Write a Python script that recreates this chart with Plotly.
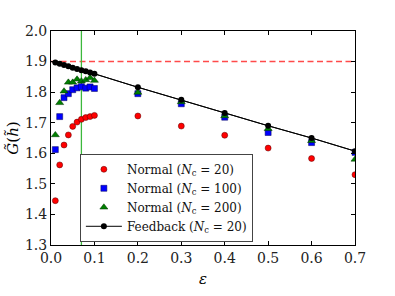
import plotly.graph_objects as go

eps = [0.01, 0.02, 0.03, 0.04, 0.05, 0.06, 0.07, 0.08, 0.09, 0.10,
       0.2, 0.3, 0.4, 0.5, 0.6, 0.7]
normal_20 = [1.445, 1.562, 1.627, 1.660, 1.688, 1.702, 1.711, 1.717, 1.720, 1.724,
             1.722, 1.689, 1.659, 1.617, 1.583, 1.530]
normal_100 = [1.612, 1.720, 1.782, 1.795, 1.808, 1.814, 1.818, 1.813, 1.817, 1.812,
              1.795, 1.762, 1.718, 1.668, 1.635, 1.603]
normal_200 = [1.660, 1.765, 1.803, 1.832, 1.832, 1.842, 1.836, 1.840, 1.847, 1.838,
              1.799, 1.768, 1.722, 1.680, 1.641, 1.580]
feedback_20 = [1.897, 1.893, 1.889, 1.885, 1.880, 1.876, 1.872, 1.868, 1.864, 1.860,
               1.816, 1.775, 1.732, 1.690, 1.650, 1.607]

ref_level = 1.9
eps_mark = 0.07
x_range = [0.0, 0.7]
y_range = [1.3, 2.0]
x_ticks = [0.0, 0.1, 0.2, 0.3, 0.4, 0.5, 0.6, 0.7]
y_ticks = [1.3, 1.4, 1.5, 1.6, 1.7, 1.8, 1.9, 2.0]

FONT = "DejaVu Serif"

fig = go.Figure()

# reference lines
fig.add_trace(go.Scatter(x=x_range, y=[ref_level, ref_level], mode="lines",
                         line=dict(color="#ff4a4a", width=1.5, dash="6px,3.5px"),
                         showlegend=False, hoverinfo="skip"))
fig.add_trace(go.Scatter(x=[eps_mark, eps_mark], y=y_range, mode="lines",
                         line=dict(color="#3cb83c", width=1.3),
                         showlegend=False, hoverinfo="skip"))

fig.add_trace(go.Scatter(x=eps, y=normal_20, mode="markers",
                         name="Normal (<i>N</i><sub>c</sub> = 20)",
                         marker=dict(symbol="circle", size=6, color="#ff0000",
                                     line=dict(color="#550000", width=0.5))))
fig.add_trace(go.Scatter(x=eps, y=normal_100, mode="markers",
                         name="Normal (<i>N</i><sub>c</sub> = 100)",
                         marker=dict(symbol="square", size=6, color="#0000ff",
                                     line=dict(color="#000055", width=0.5))))
fig.add_trace(go.Scatter(x=eps, y=normal_200, mode="markers",
                         name="Normal (<i>N</i><sub>c</sub> = 200)",
                         marker=dict(symbol="triangle-up", size=7, color="#007f00",
                                     line=dict(color="#003300", width=0.5))))
fig.add_trace(go.Scatter(x=[0.0] + eps, y=[1.9] + feedback_20, mode="lines",
                         line=dict(color="black", width=1),
                         showlegend=False, hoverinfo="skip"))
fig.add_trace(go.Scatter(x=eps, y=feedback_20, mode="lines+markers",
                         name="Feedback (<i>N</i><sub>c</sub> = 20)",
                         line=dict(color="black", width=1),
                         marker=dict(symbol="circle", size=6, color="black")))

axis_common = dict(showgrid=False, zeroline=False, showline=True, linecolor="black",
                   linewidth=1, mirror="ticks", ticks="inside", ticklen=4,
                   tickcolor="black", tickfont=dict(family=FONT, size=14, color="#222"))

fig.update_layout(
    width=395, height=296,
    margin=dict(l=50, r=40, t=31, b=47),
    plot_bgcolor="white", paper_bgcolor="white",
    font=dict(family=FONT, size=12, color="black"),
    xaxis=dict(range=x_range, tickvals=x_ticks, ticktext=[f"{v:.1f}" for v in x_ticks],
               title=dict(text="<i>ε</i>", font=dict(family=FONT, size=15), standoff=8),
               **axis_common),
    yaxis=dict(range=y_range, tickvals=y_ticks, ticktext=[f"{v:.1f}" for v in y_ticks],
               title=dict(text="<i>G̃</i>(<i>h̃</i>)", font=dict(family=FONT, size=15), standoff=2),
               **axis_common),
    legend=dict(x=0.095, y=0.015, xanchor="left", yanchor="bottom",
                bgcolor="white", bordercolor="#444", borderwidth=1,
                font=dict(family=FONT, size=12, color="#111"), tracegroupgap=0,
                itemwidth=36),
    showlegend=True,
)

fig.write_html("out.html", config={"displayModeBar": False},
               post_script="document.body.style.margin='0';document.body.style.padding='0';")
